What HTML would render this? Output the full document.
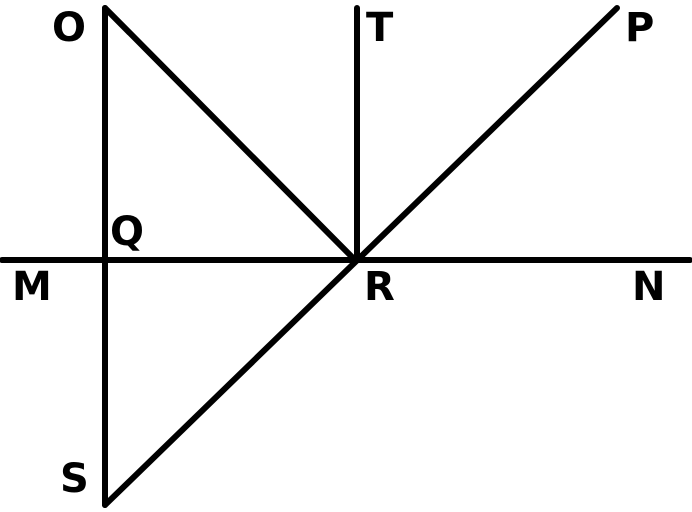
<!DOCTYPE html>
<html><head><style>html,body{margin:0;padding:0;background:#fff}svg{display:block}</style></head>
<body>
<svg width="692" height="512" viewBox="0 0 692 512" xmlns="http://www.w3.org/2000/svg">
<g stroke="#000" stroke-width="6" stroke-linecap="round" fill="none">
<line x1="105" y1="8" x2="105" y2="505"/>
<line x1="105" y1="8" x2="355" y2="260"/>
<line x1="357" y1="8" x2="357" y2="260"/>
<line x1="617" y1="8" x2="105" y2="505"/>
<line x1="2" y1="260" x2="690" y2="260"/>
</g>
<g font-family="DejaVu Sans, Liberation Sans, sans-serif" font-weight="bold" font-size="40" fill="#000">
<text x="52" y="41">O</text>
<text x="366" y="41">T</text>
<text x="625" y="41">P</text>
<text x="110" y="245">Q</text>
<text x="12" y="300">M</text>
<text x="364" y="300">R</text>
<text x="632" y="300">N</text>
<text x="60" y="492">S</text>
</g>
</svg>
</body></html>
